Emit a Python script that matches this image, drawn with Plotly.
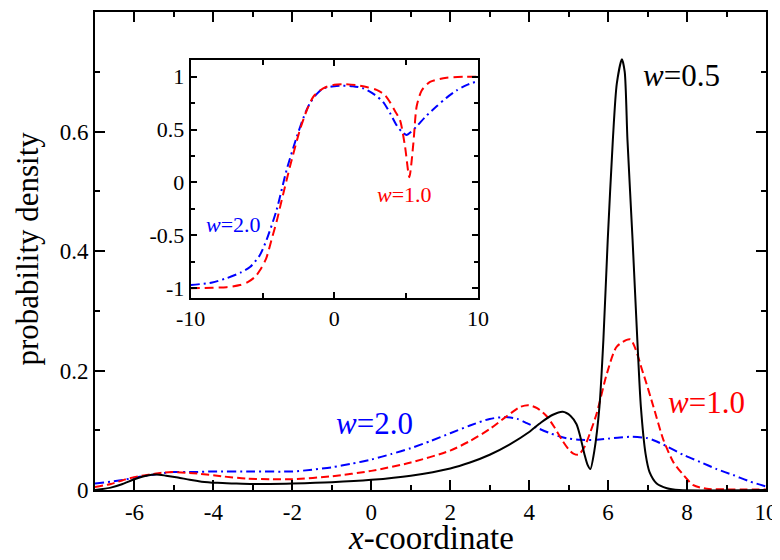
import plotly.graph_objects as go

# ---- main panel data: probability density ----
x_w05 = [-7.0, -6.6, -6.3, -6.0, -5.7, -5.45, -5.2, -4.9, -4.6, -4.3, -3.9, -3.5, -3.0, -2.0, -1.0, 0.0,
         1.0, 2.0, 2.5, 3.0, 3.5, 4.0, 4.3, 4.6, 4.85, 5.05, 5.2, 5.3, 5.4, 5.48, 5.55, 5.65,
         5.78, 5.88, 5.99, 6.12, 6.22, 6.35, 6.42, 6.49, 6.62, 6.74, 6.83, 6.95, 7.05, 7.23, 7.49, 7.8, 10.0]
p_w05 = [0.000, 0.004, 0.010, 0.018, 0.024, 0.026, 0.024, 0.021, 0.017, 0.014, 0.012, 0.011, 0.010, 0.011, 0.013, 0.017,
         0.024, 0.036, 0.046, 0.059, 0.076, 0.097, 0.113, 0.126, 0.131, 0.124, 0.110, 0.088, 0.060, 0.042, 0.035, 0.065,
         0.139, 0.251, 0.418, 0.586, 0.680, 0.721, 0.700, 0.586, 0.418, 0.251, 0.139, 0.060, 0.030, 0.011, 0.003, 0.000, 0.000]

x_w10 = [-7.0, -6.6, -6.27, -5.9, -5.6, -5.3, -5.05, -4.7, -4.33, -3.8, -3.15, -2.5, -2.0, -1.0, 0.0, 1.0,
         2.0, 2.5, 3.0, 3.4, 3.77, 3.98, 4.2, 4.45, 4.65, 4.83, 5.0, 5.12, 5.25, 5.4, 5.54, 5.71,
         5.97, 6.22, 6.56, 6.89, 7.15, 7.40, 7.65, 7.87, 8.16, 8.5, 9.0, 10.0]
p_w10 = [0.005, 0.010, 0.017, 0.023, 0.026, 0.029, 0.030, 0.029, 0.027, 0.023, 0.019, 0.018, 0.018, 0.023, 0.032, 0.046,
         0.066, 0.082, 0.102, 0.122, 0.139, 0.142, 0.137, 0.123, 0.104, 0.084, 0.068, 0.061, 0.059, 0.072, 0.095, 0.128,
         0.195, 0.240, 0.252, 0.195, 0.139, 0.084, 0.047, 0.028, 0.008, 0.002, 0.001, 0.001]

x_w20 = [-7.0, -6.6, -6.27, -5.9, -5.6, -5.3, -5.0, -4.5, -4.0, -3.0, -2.0, -1.5, -1.0, -0.5, 0.0, 0.5,
         1.0, 1.5, 2.0, 2.5, 3.0, 3.4, 3.7, 3.94, 4.2, 4.53, 4.8, 5.0, 5.3, 5.71, 6.0, 6.3,
         6.6, 6.98, 7.2, 7.49, 7.9, 8.33, 8.75, 9.17, 9.6, 10.0]
p_w20 = [0.011, 0.014, 0.017, 0.022, 0.025, 0.028, 0.030, 0.030, 0.031, 0.031, 0.031, 0.034, 0.038, 0.044, 0.051, 0.060,
         0.070, 0.082, 0.095, 0.108, 0.119, 0.122, 0.119, 0.112, 0.104, 0.095, 0.089, 0.086, 0.084, 0.084, 0.086, 0.088,
         0.089, 0.087, 0.082, 0.073, 0.059, 0.047, 0.035, 0.025, 0.014, 0.006]

# ---- inset data: v(x,t) ----
xi_w10 = [-10.0, -8.5, -7.5, -6.57, -6.0, -5.5, -5.18, -4.75, -4.37, -4.0, -3.67, -3.09, -2.39, -1.9, -1.47, -1.0,
          -0.54, 0.0, 0.62, 1.5, 2.3, 2.94, 3.5, 3.87, 4.2, 4.57, 4.92, 5.22, 5.50, 5.73, 6.08, 6.66, 7.82, 9.0, 10.0]
v_w10 = [-1.0, -0.995, -0.99, -0.97, -0.94, -0.89, -0.83, -0.72, -0.54, -0.36, -0.17, 0.15, 0.50, 0.69, 0.81, 0.87,
         0.905, 0.925, 0.93, 0.92, 0.90, 0.875, 0.83, 0.76, 0.68, 0.59, 0.34, 0.05, 0.37, 0.72, 0.87, 0.95, 0.99, 1.0, 1.0]

xi_w20 = [-10.0, -8.5, -7.5, -6.5, -5.87, -5.2, -4.71, -4.02, -3.32, -2.62, -2.1, -1.7, -1.2, -0.77, 0.0, 0.62,
          1.3, 2.01, 2.8, 3.4, 3.9, 4.34, 4.7, 5.03, 5.35, 5.73, 6.4, 7.12, 7.8, 8.51, 9.2, 10.0]
v_w20 = [-0.97, -0.945, -0.905, -0.85, -0.80, -0.69, -0.54, -0.26, 0.12, 0.43, 0.63, 0.75, 0.84, 0.89, 0.91, 0.915,
         0.91, 0.89, 0.83, 0.76, 0.65, 0.54, 0.48, 0.45, 0.48, 0.53, 0.63, 0.72, 0.80, 0.87, 0.92, 0.96]

# ---- tick labels ----
main_xticks = [-6, -4, -2, 0, 2, 4, 6, 8, 10]
main_xticktext = ["-6", "-4", "-2", "0", "2", "4", "6", "8", "10"]
main_yticks = [0, 0.2, 0.4, 0.6, 0.8]
main_yticktext = ["0", "0.2", "0.4", "0.6", "0.8"]
ins_xticks = [-10, 0, 10]
ins_xticktext = ["-10", "0", "10"]
ins_yticks = [-1, -0.5, 0, 0.5, 1]
ins_yticktext = ["-1", "-0.5", "0", "0.5", "1"]

FONT = "Liberation Serif"
RED = "#ff0000"
BLUE = "#0000ff"

fig = go.Figure()
fig.add_trace(go.Scatter(x=x_w20, y=p_w20, mode="lines", line=dict(color=BLUE, width=2, dash="9px,4px,2px,4px", shape="spline", smoothing=0.7)))
fig.add_trace(go.Scatter(x=x_w10, y=p_w10, mode="lines", line=dict(color=RED, width=2, dash="8px,4px", shape="spline", smoothing=0.7)))
fig.add_trace(go.Scatter(x=x_w05, y=p_w05, mode="lines", line=dict(color="black", width=2, shape="spline", smoothing=0.7)))
fig.add_trace(go.Scatter(x=xi_w20, y=v_w20, xaxis="x2", yaxis="y2", mode="lines", line=dict(color=BLUE, width=2, dash="9px,4px,2px,4px", shape="spline", smoothing=0.7)))
fig.add_trace(go.Scatter(x=xi_w10, y=v_w10, xaxis="x2", yaxis="y2", mode="lines", line=dict(color=RED, width=2, dash="9px,5px", shape="spline", smoothing=0.7)))

def ax(size, margin_side, **kw):
    d = dict(showgrid=False, zeroline=False, showline=True, linecolor="black", linewidth=2,
             mirror="ticks", ticks="inside", tickcolor="black", tickwidth=1.5, tickmode="array",
             automargin=margin_side, tickfont=dict(size=size))
    d.update(kw)
    return d

INS_XD = [0.1426, 0.5708]
INS_YD = [0.4017, 0.8996]

fig.update_layout(
    width=772, height=552,
    margin=dict(l=87, r=14, t=4, b=70),
    paper_bgcolor="white", plot_bgcolor="white",
    showlegend=False,
    font=dict(family=FONT, color="black", size=22),
    xaxis=ax(23, "bottom", range=[-7, 10], tickvals=main_xticks, ticktext=main_xticktext, ticklen=10,
             minor=dict(dtick=1, ticks="inside", ticklen=5, tickcolor="black", tickwidth=1.5)),
    yaxis=ax(23, "left", range=[0, 0.8], tickvals=main_yticks, ticktext=main_yticktext, ticklen=10,
             minor=dict(dtick=0.1, ticks="inside", ticklen=5, tickcolor="black", tickwidth=1.5)),
    xaxis2=ax(22, "bottom", domain=INS_XD, anchor="y2", range=[-10, 10], tickvals=ins_xticks, ticktext=ins_xticktext, ticklen=6,
              minor=dict(dtick=5, ticks="inside", ticklen=5, tickcolor="black", tickwidth=1.5)),
    yaxis2=ax(22, "left", domain=INS_YD, anchor="x2", range=[-1.092, 1.158], tickvals=ins_yticks, ticktext=ins_yticktext, ticklen=6,
              minor=dict(dtick=0.25, ticks="inside", ticklen=4, tickcolor="black", tickwidth=1.5)),
)

annots = [
    dict(text="<i>x</i>-coordinate", x=0.5, y=-0.100, xref="paper", yref="paper", font=dict(size=33)),
    dict(text="probability density", x=-0.1, y=0.505, xref="paper", yref="paper", textangle=-90, font=dict(size=31)),
    dict(text="<i>x</i>-coordinate", x=0.0, y=-1.39, xref="x2", yref="y2", font=dict(size=25)),
    dict(text="<i>v</i>(<i>x</i>,<i>t</i>)", x=-15.2, y=0.02, xref="x2", yref="y2", textangle=-90, font=dict(size=24)),
    dict(text="<i>w</i>=0.5", x=7.87, y=0.693, xref="x", yref="y", font=dict(size=31, color="black")),
    dict(text="<i>w</i>=1.0", x=8.50, y=0.147, xref="x", yref="y", font=dict(size=31, color=RED)),
    dict(text="<i>w</i>=2.0", x=0.08, y=0.112, xref="x", yref="y", font=dict(size=31, color=BLUE)),
    dict(text="<i>w</i>=2.0", x=-6.99, y=-0.40, xref="x2", yref="y2", font=dict(size=22, color=BLUE)),
    dict(text="<i>w</i>=1.0", x=4.85, y=-0.11, xref="x2", yref="y2", font=dict(size=22, color=RED)),
]
for a in annots:
    a.setdefault("showarrow", False)
    a.setdefault("xanchor", "center")
    a.setdefault("yanchor", "middle")
    fig.add_annotation(**a)

fig.write_html("out.html")
